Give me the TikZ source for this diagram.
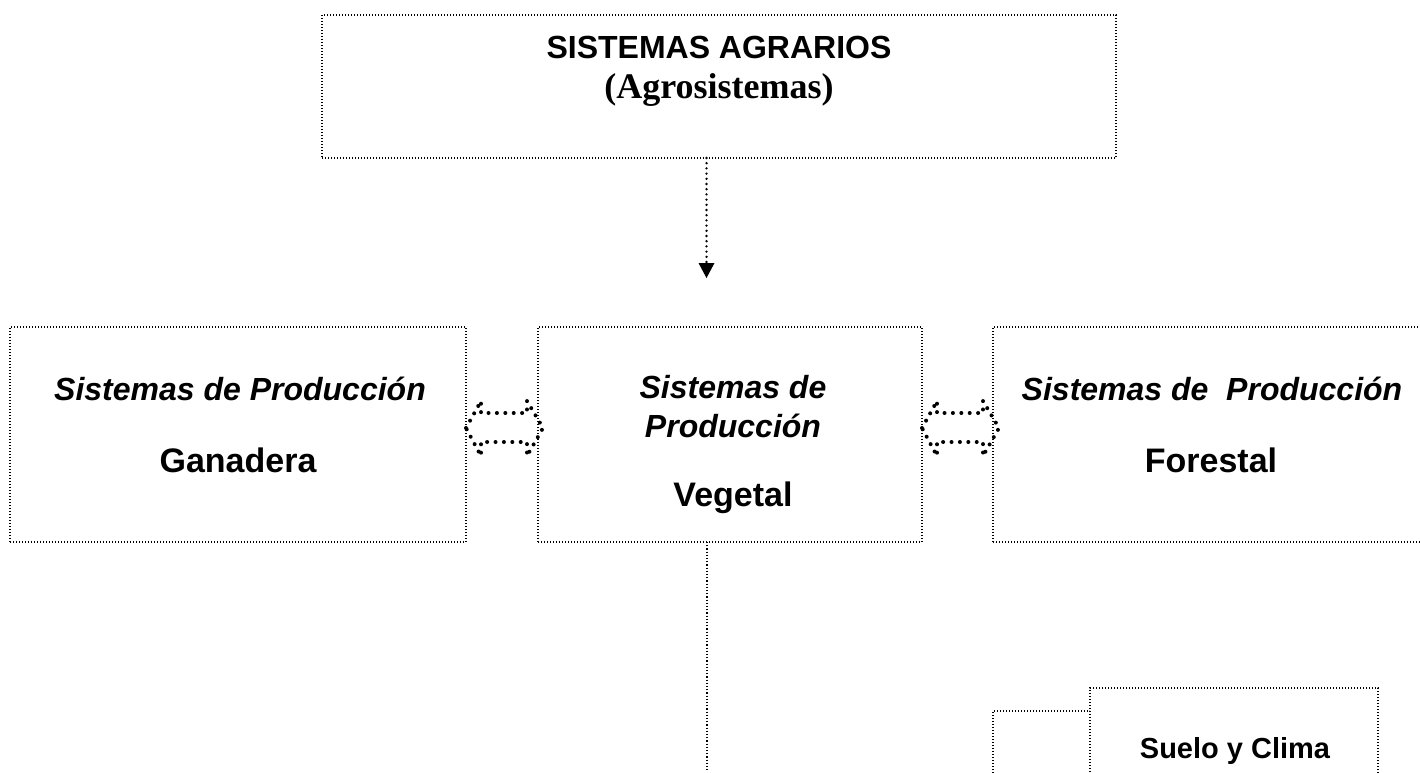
\documentclass[tikz,border=0pt]{standalone}
\usepackage{fontspec}
\setmainfont{Liberation Sans}
\newfontfamily\serifb{Liberation Serif}
\usetikzlibrary{arrows.meta}
\begin{document}
\begin{tikzpicture}[x=0.5pt,y=-0.5pt,
  boxst/.style={draw=black, line width=0.55pt, dash pattern=on 0.5pt off 1pt, fill=white, inner sep=0pt, outer sep=0pt, rectangle},
  fatdots/.style={draw=black, line width=2pt, dash pattern=on 0pt off 4.2pt, line cap=round, line join=round},
  arrline/.style={draw=black, line width=1.3pt, dash pattern=on 0pt off 2.6pt, line cap=round},
  vline/.style={draw=black, line width=0.7pt, dash pattern=on 0.6pt off 1pt},
  tsmall/.style={font=\fontsize{16}{19}\selectfont\bfseries\itshape, anchor=base, inner sep=0pt},
  tbig/.style={font=\fontsize{17}{20}\selectfont\bfseries, anchor=base, inner sep=0pt}
]
\useasboundingbox (0,0) rectangle (1420,772);
\clip (0,0) rectangle (1420,772);

% boxes
\node[boxst, minimum width=397pt, minimum height=71.5pt] (top) at (719,86.5) {};
\node[boxst, minimum width=228pt, minimum height=107.5pt] (gan) at (238,434.5) {};
\node[boxst, minimum width=192pt, minimum height=107.5pt] (veg) at (730,434.5) {};
\node[boxst, minimum width=219pt, minimum height=107.5pt] (for) at (1212,434.5) {};
\node[boxst, minimum width=48.5pt, minimum height=60pt] (sueloA) at (1041.5,771) {};
\node[boxst, minimum width=144pt, minimum height=71pt] (suelo) at (1234,759) {};

% texts
\node[anchor=base, inner sep=0pt, font=\fontsize{16}{19}\selectfont\bfseries] (t1) at (719,58) {SISTEMAS AGRARIOS};
\node[anchor=base, inner sep=0pt, font=\fontsize{18}{21}\selectfont\serifb\bfseries] (t2) at (719,98) {(Agrosistemas)};

\node[tsmall] (g1) at (240,400) {Sistemas de Producción};
\node[tbig] (g2) at (238,472) {Ganadera};

\node[tsmall] (v1) at (733,398) {Sistemas de};
\node[tsmall] (v2) at (733,437) {Producción};
\node[tbig] (v3) at (733,506) {Vegetal};

\node[tsmall] (f1) at (1212,400) {Sistemas de\ \ Producción};
\node[tbig] (f2) at (1211,472) {Forestal};

\node[anchor=base, inner sep=0pt, font=\fontsize{14.5}{17}\selectfont\bfseries] (s1) at (1235,758) {Suelo y Clima};

% connectors
\coordinate (aend) at (706.5,278);
\draw[arrline] (top.south -| aend) -- ([yshift=7.5pt]aend);
\fill (698.5,263) -- (714.5,263) -- (aend) -- cycle;

\coordinate (vend) at (707,772);
\draw[vline] (veg.south -| vend) -- (vend);

% double arrows
\draw[fatdots] (466,428) -- (481,401) -- (481,413) -- (527,413) -- (527,401) -- (543,428) -- (527,456) -- (527,442) -- (481,442) -- (481,456) -- cycle;
\draw[fatdots] (922,428) -- (937,401) -- (937,413) -- (983,413) -- (983,401) -- (999,428) -- (983,456) -- (983,442) -- (937,442) -- (937,456) -- cycle;
\end{tikzpicture}
\end{document}
